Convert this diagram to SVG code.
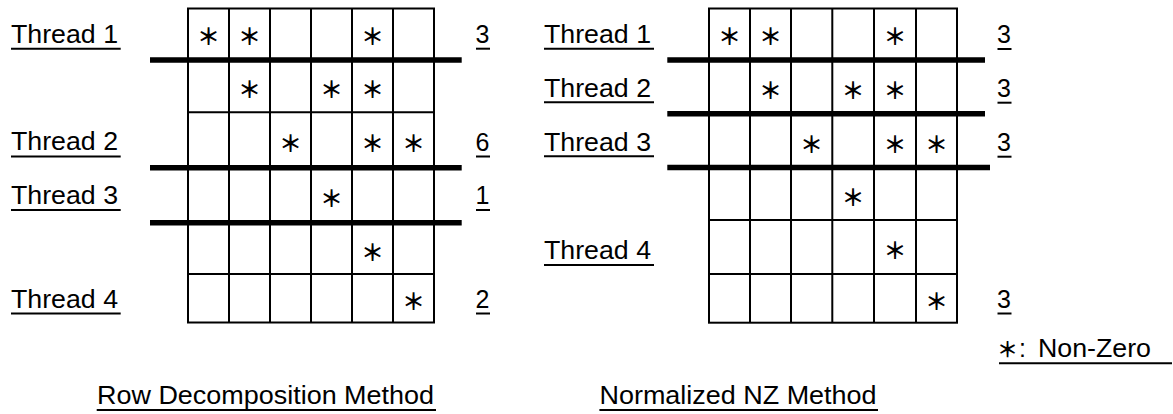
<svg xmlns="http://www.w3.org/2000/svg" width="1173" height="414" viewBox="0 0 1173 414">
<style>
.lbl{font-family:"Liberation Sans","Noto Sans CJK JP",sans-serif;font-size:25px;fill:#000}
.st{font-family:"Noto Sans CJK JP","Liberation Sans",sans-serif;font-size:23px;font-weight:bold;fill:#000;text-anchor:middle;dominant-baseline:central}
.ast{font-family:"Noto Sans CJK JP",sans-serif;font-weight:bold;font-size:21px}
.ul{stroke:#000;stroke-width:2;fill:none}
.grid{stroke:#000;stroke-width:2;fill:#fff}
.thin{stroke:#000;stroke-width:2;fill:none}
.thick{stroke:#000;stroke-width:5.5;fill:none}
</style>
<rect width="1173" height="414" fill="#fff"/>

<g id="row-decomposition">
  <g id="left-grid">
    <rect class="grid" x="188" y="8.5" width="246" height="314"/>
    <path class="thin" d="M229,8.5V322.5M270,8.5V322.5M311,8.5V322.5M352,8.5V322.5M393,8.5V322.5M188,112.3H434M188,274H434"/>
  </g>
  <g id="left-stars">
    <text class="st" x="208.5" y="35">＊</text><text class="st" x="249.5" y="35">＊</text><text class="st" x="372.5" y="35">＊</text>
    <text class="st" x="249.5" y="88">＊</text><text class="st" x="331.5" y="88">＊</text><text class="st" x="372.5" y="88">＊</text>
    <text class="st" x="290.5" y="142">＊</text><text class="st" x="372.5" y="142">＊</text><text class="st" x="413.5" y="142">＊</text>
    <text class="st" x="331.5" y="197">＊</text>
    <text class="st" x="372.5" y="250.5">＊</text>
    <text class="st" x="413.5" y="300">＊</text>
  </g>
  <g id="left-separators">
    <path class="thick" d="M150,60H461.7M150,167.7H461.7M150,222.7H461.7"/>
  </g>
  <g id="left-thread-1"><text class="lbl" x="11" y="43.3" textLength="107" lengthAdjust="spacingAndGlyphs">Thread 1</text><line class="ul" x1="11" y1="48.7" x2="120.7" y2="48.7"/></g>
  <g id="left-thread-2"><text class="lbl" x="11" y="150" textLength="107" lengthAdjust="spacingAndGlyphs">Thread 2</text><line class="ul" x1="11" y1="156.5" x2="120.7" y2="156.5"/></g>
  <g id="left-thread-3"><text class="lbl" x="11" y="203.5" textLength="107" lengthAdjust="spacingAndGlyphs">Thread 3</text><line class="ul" x1="11" y1="210" x2="120.7" y2="210"/></g>
  <g id="left-thread-4"><text class="lbl" x="11" y="308.3" textLength="107" lengthAdjust="spacingAndGlyphs">Thread 4</text><line class="ul" x1="11" y1="313.5" x2="120.7" y2="313.5"/></g>
  <g id="left-counts">
    <text class="lbl" x="475.5" y="43.3">3</text><line class="ul" x1="476" y1="48.7" x2="490" y2="48.7"/>
    <text class="lbl" x="475.5" y="150.5">6</text><line class="ul" x1="476" y1="156.5" x2="490" y2="156.5"/>
    <text class="lbl" x="475.5" y="204">1</text><line class="ul" x1="476" y1="210" x2="490" y2="210"/>
    <text class="lbl" x="475.5" y="308.3">2</text><line class="ul" x1="476" y1="313.5" x2="490" y2="313.5"/>
  </g>
  <g id="title-row"><text class="lbl" x="97" y="404.3" textLength="337" lengthAdjust="spacingAndGlyphs">Row Decomposition Method</text><line class="ul" x1="96.7" y1="410" x2="436" y2="410"/></g>
</g>

<g id="normalized-nz">
  <g id="right-grid">
    <rect class="grid" x="709" y="8.5" width="248" height="314.2"/>
    <path class="thin" d="M750,8.5V322.7M791,8.5V322.7M832.3,8.5V322.7M874,8.5V322.7M916,8.5V322.7M709,220H957M709,274H957"/>
  </g>
  <g id="right-stars">
    <text class="st" x="729.5" y="35">＊</text><text class="st" x="770.5" y="35">＊</text><text class="st" x="895" y="35">＊</text>
    <text class="st" x="770.5" y="88.5">＊</text><text class="st" x="853" y="88.5">＊</text><text class="st" x="895" y="88.5">＊</text>
    <text class="st" x="811.5" y="142.5">＊</text><text class="st" x="895" y="142.5">＊</text><text class="st" x="936.5" y="142.5">＊</text>
    <text class="st" x="853" y="196">＊</text>
    <text class="st" x="895" y="249">＊</text>
    <text class="st" x="936.5" y="300">＊</text>
  </g>
  <g id="right-separators">
    <path class="thick" d="M667.3,60H985M667.3,113.7H985M667.3,167.4H990"/>
  </g>
  <g id="right-thread-1"><text class="lbl" x="544" y="43.3" textLength="107" lengthAdjust="spacingAndGlyphs">Thread 1</text><line class="ul" x1="544" y1="48.7" x2="654" y2="48.7"/></g>
  <g id="right-thread-2"><text class="lbl" x="544" y="96.8" textLength="107" lengthAdjust="spacingAndGlyphs">Thread 2</text><line class="ul" x1="544" y1="102.3" x2="654" y2="102.3"/></g>
  <g id="right-thread-3"><text class="lbl" x="544" y="150.5" textLength="107" lengthAdjust="spacingAndGlyphs">Thread 3</text><line class="ul" x1="544" y1="156.3" x2="654" y2="156.3"/></g>
  <g id="right-thread-4"><text class="lbl" x="544" y="259" textLength="107" lengthAdjust="spacingAndGlyphs">Thread 4</text><line class="ul" x1="544" y1="265" x2="654" y2="265"/></g>
  <g id="right-counts">
    <text class="lbl" x="997" y="43.3">3</text><line class="ul" x1="997.5" y1="49" x2="1011.5" y2="49"/>
    <text class="lbl" x="997" y="97.3">3</text><line class="ul" x1="997.5" y1="102.7" x2="1011.5" y2="102.7"/>
    <text class="lbl" x="997" y="151.3">3</text><line class="ul" x1="997.5" y1="156.7" x2="1011.5" y2="156.7"/>
    <text class="lbl" x="997" y="308.3">3</text><line class="ul" x1="997.5" y1="313.5" x2="1011.5" y2="313.5"/>
  </g>
  <g id="title-nz"><text class="lbl" x="599.5" y="404.3" textLength="277" lengthAdjust="spacingAndGlyphs">Normalized NZ Method</text><line class="ul" x1="599.4" y1="410" x2="878" y2="410"/></g>
</g>

<g id="legend"><text class="lbl" x="997" y="356.7"><tspan class="ast">＊</tspan><tspan x="1019">: </tspan><tspan x="1038" textLength="113" lengthAdjust="spacingAndGlyphs">Non-Zero</tspan></text><line class="ul" x1="999" y1="363.3" x2="1172" y2="363.3"/></g>
</svg>
